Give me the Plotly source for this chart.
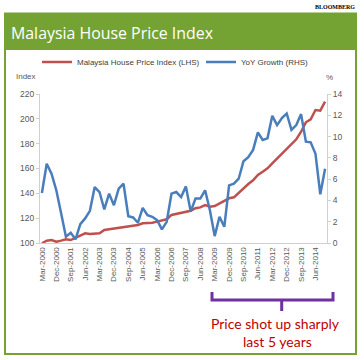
import plotly.graph_objects as go

# ---- data ----
months = ["Mar", "Jun", "Sep", "Dec"]
quarters = [f"{m}-{y}" for y in range(2000, 2015) for m in months]

house_price_index = [
    99.8, 101.9, 102.4, 101.0, 101.9, 103.0, 102.4, 104.3, 106.4, 107.8,
    107.2, 107.2, 107.8, 110.5, 111.0, 112.0, 112.6, 113.1, 113.4, 113.7,
    114.5, 115.9, 115.9, 116.4, 117.2, 118.0, 119.1, 122.6, 123.4, 123.8,
    124.8, 126.0, 128.0, 128.7, 130.6, 129.2, 129.8, 132.0, 133.8, 136.0,
    136.8, 140.5, 144.0, 147.5, 150.5, 154.8, 157.4, 160.1, 164.2, 168.2,
    172.2, 176.3, 180.3, 183.5, 189.6, 197.2, 199.6, 207.1, 206.6, 213.8,
]
yoy_growth = [
    4.70, 7.44, 6.51, 4.95, 2.80, 0.59, 0.96, 0.35, 1.77, 2.31,
    3.02, 5.26, 4.79, 3.15, 4.64, 3.55, 5.11, 5.57, 2.52, 2.40,
    1.90, 3.30, 2.61, 2.46, 2.15, 1.28, 1.99, 4.64, 4.79, 4.32,
    5.32, 2.95, 4.17, 4.17, 4.95, 3.08, 0.65, 2.46, 1.52, 5.42,
    5.57, 6.04, 7.68, 8.06, 8.75, 10.39, 9.68, 9.83, 11.95, 11.08,
    11.74, 12.17, 10.62, 11.08, 12.11, 9.52, 9.46, 8.38, 4.58, 6.97,
]
tick_labels = quarters[::3]
left_ticks = [100, 120, 140, 160, 180, 200, 220]
right_ticks = [0, 2, 4, 6, 8, 10, 12, 14]

# ---- layout helpers (pixel -> paper) ----
W, H = 364, 360
L, R, T, B = 40, 37, 94, 117
PW, PH = W - L - R, H - T - B


def fx(p):
    return (p - L) / PW


def fy(p):
    return (H - B - p) / PH


GREEN = "#74A334"
RED = "#C0504D"
BLUE = "#4A7EBB"
PURPLE = "#7030A0"
TXT = "#595959"

fig = go.Figure()
fig.add_trace(go.Scatter(
    x=quarters, y=house_price_index, name="Malaysia House Price Index (LHS)",
    mode="lines", line=dict(color=RED, width=2.5), yaxis="y", legend="legend"))
fig.add_trace(go.Scatter(
    x=quarters, y=yoy_growth, name="YoY Growth (RHS)",
    mode="lines", line=dict(color=BLUE, width=2.5), yaxis="y2", legend="legend2"))

shapes = [
    # banner
    dict(type="rect", xref="paper", yref="paper", x0=fx(4), x1=fx(357),
         y0=fy(12.5), y1=fy(50), fillcolor=GREEN, line=dict(width=0), layer="below"),
    # frame
    dict(type="path", xref="paper", yref="paper",
         path=f"M {fx(5)},{fy(50)} L {fx(5)},{fy(354)} L {fx(356)},{fy(354)} L {fx(356)},{fy(50)}",
         line=dict(color=GREEN, width=2)),
    # bracket
    dict(type="path", xref="paper", yref="paper",
         path=f"M {fx(212)},{fy(292)} L {fx(212)},{fy(300)} L {fx(333)},{fy(300)} L {fx(333)},{fy(292)}",
         line=dict(color=PURPLE, width=3)),
    dict(type="line", xref="paper", yref="paper", x0=fx(281.7), x1=fx(281.7),
         y0=fy(300), y1=fy(311), line=dict(color=PURPLE, width=3)),
]

annotations = [
    dict(text="Malaysia House Price Index", xref="paper", yref="paper",
         x=fx(9), y=fy(33), xanchor="left", yanchor="middle", showarrow=False,
         font=dict(family="Open Sans", size=15.9, color="white")),
    dict(text="BLOOMBERG", xref="paper", yref="paper",
         x=fx(357), y=fy(7), xanchor="right", yanchor="middle", showarrow=False,
         font=dict(family="Liberation Serif", size=6, color="black", weight="bold")),
    dict(text="Index", xref="paper", yref="paper",
         x=fx(26), y=fy(76), xanchor="center", yanchor="middle", showarrow=False,
         font=dict(family="Liberation Sans", size=8, color=TXT)),
    dict(text="%", xref="paper", yref="paper",
         x=fx(329), y=fy(77), xanchor="center", yanchor="middle", showarrow=False,
         font=dict(family="Liberation Sans", size=8, color=TXT)),
    dict(text="Price shot up sharply", xref="paper", yref="paper",
         x=fx(275), y=fy(323), xanchor="center", yanchor="middle", showarrow=False,
         font=dict(family="Lato", size=14, color="#C00000")),
    dict(text="last 5 years", xref="paper", yref="paper",
         x=fx(277), y=fy(341), xanchor="center", yanchor="middle", showarrow=False,
         font=dict(family="Lato", size=14, color="#C00000")),
]

legend_font = dict(family="Liberation Sans", size=8, color="#404040")

fig.update_layout(
    width=W, height=H,
    margin=dict(l=L, r=R, t=T, b=B, autoexpand=False),
    paper_bgcolor="white", plot_bgcolor="white",
    showlegend=True,
    legend=dict(orientation="h", x=fx(37), y=fy(62), xanchor="left", yanchor="middle",
                font=legend_font, bgcolor="rgba(0,0,0,0)", itemwidth=30),
    legend2=dict(orientation="h", x=fx(201), y=fy(62), xanchor="left", yanchor="middle",
                 font=legend_font, bgcolor="rgba(0,0,0,0)", itemwidth=30),
    xaxis=dict(type="category", range=[-0.4, 59.4], tickmode="array",
               tickvals=tick_labels, ticktext=tick_labels, tickangle=-90,
               showgrid=False, showline=True, linecolor="#d0d0d0", linewidth=1,
               ticks="", zeroline=False,
               tickfont=dict(family="Liberation Sans", size=8, color=TXT)),
    yaxis=dict(range=[100, 220], tickvals=left_ticks, showgrid=False,
               showline=True, linecolor="#d0d0d0", linewidth=1,
               ticks="outside", ticklen=3, tickcolor="#d0d0d0", zeroline=False,
               tickfont=dict(family="Liberation Sans", size=8.5, color=TXT)),
    yaxis2=dict(range=[0, 14], tickvals=right_ticks, overlaying="y", side="right",
                showgrid=False, showline=True, linecolor="#d0d0d0", linewidth=1,
                ticks="outside", ticklen=3, tickcolor="#d0d0d0", zeroline=False,
                tickfont=dict(family="Liberation Sans", size=8.5, color=TXT)),
    shapes=shapes,
    annotations=annotations,
)

fig.write_html("out.html", config={"displayModeBar": False},
               post_script="document.body.style.margin='0';")
